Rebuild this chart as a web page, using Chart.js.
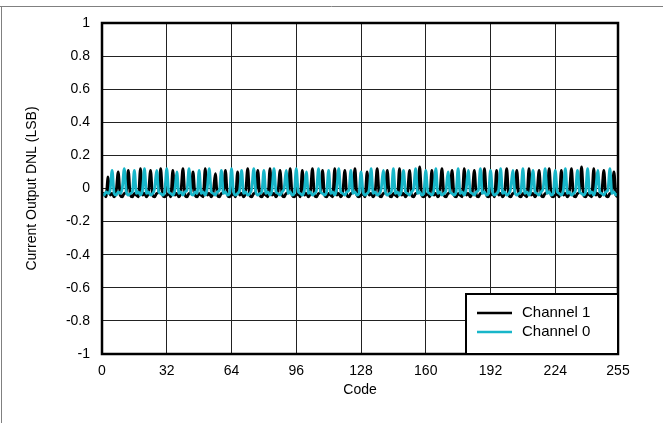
<!DOCTYPE html>
<html>
<head>
<meta charset="utf-8">
<script src="https://cdn.jsdelivr.net/npm/chart.js@4"></script>
<style>
  html, body { margin: 0; padding: 0; background: #fff; }
  #wrap { width: 663px; height: 423px; }
</style>
</head>
<body>
<div id="wrap"><canvas id="dnlChart"></canvas></div>
<script>
// Code axis ticks
const xTickValues = [0, 32, 64, 96, 128, 160, 192, 224, 255];
const seriesNames = ['Channel 1', 'Channel 0'];
const seriesColors = ['#000000', '#18b6c9'];

// DNL (LSB) per code 0..255
const channel1Dnl = [
  -0.04,-0.03,-0.05,0.07,-0.04,-0.03,-0.05,-0.02,0.10,-0.04,-0.05,-0.03,-0.02,0.11,-0.04,-0.05,
  -0.03,-0.04,-0.05,0.12,-0.04,-0.03,-0.05,-0.02,0.11,-0.04,-0.05,-0.03,-0.02,0.12,-0.04,-0.05,
  -0.04,-0.03,-0.05,0.11,-0.04,-0.03,-0.05,-0.02,0.12,-0.04,-0.05,-0.03,-0.02,0.10,-0.04,-0.05,
  -0.03,-0.04,-0.05,0.12,-0.04,-0.03,-0.05,-0.02,0.09,-0.04,-0.05,-0.03,-0.02,0.11,-0.04,-0.05,
  -0.04,-0.03,-0.05,0.10,-0.04,-0.03,-0.05,-0.02,0.12,-0.04,-0.05,-0.03,-0.02,0.11,-0.04,-0.05,
  -0.03,-0.04,-0.05,0.12,-0.04,-0.03,-0.05,-0.02,0.11,-0.04,-0.05,-0.03,-0.02,0.12,-0.04,-0.05,
  -0.04,-0.03,-0.05,0.11,-0.04,-0.03,-0.05,-0.02,0.12,-0.04,-0.05,-0.03,-0.02,0.11,-0.04,-0.05,
  -0.03,-0.04,-0.05,0.12,-0.04,-0.03,-0.05,-0.02,0.11,-0.04,-0.05,-0.03,-0.02,0.12,-0.04,-0.05,
  -0.04,-0.03,-0.05,0.10,-0.04,-0.03,-0.05,-0.02,0.12,-0.04,-0.05,-0.03,-0.02,0.11,-0.04,-0.05,
  -0.03,-0.04,-0.05,0.12,-0.04,-0.03,-0.05,-0.02,0.11,-0.04,-0.05,-0.03,-0.02,0.13,-0.04,-0.05,
  -0.04,-0.03,-0.05,0.11,-0.04,-0.03,-0.05,-0.02,0.12,-0.04,-0.05,-0.03,-0.02,0.11,-0.04,-0.05,
  -0.03,-0.04,-0.05,0.12,-0.04,-0.03,-0.05,-0.02,0.11,-0.04,-0.05,-0.03,-0.02,0.12,-0.04,-0.05,
  -0.04,-0.03,-0.05,0.11,-0.04,-0.03,-0.05,-0.02,0.12,-0.04,-0.05,-0.03,-0.02,0.11,-0.04,-0.05,
  -0.03,-0.04,-0.05,0.12,-0.04,-0.03,-0.05,-0.02,0.11,-0.04,-0.05,-0.03,-0.02,0.12,-0.04,-0.05,
  -0.04,-0.03,-0.05,0.11,-0.04,-0.03,-0.05,-0.02,0.12,-0.04,-0.05,-0.03,-0.02,0.13,-0.04,-0.05,
  -0.03,-0.04,-0.05,0.12,-0.04,-0.03,-0.05,-0.02,0.11,-0.04,-0.05,-0.03,-0.02,0.10,-0.04,-0.05
];
const channel0Dnl = [
  -0.03,-0.04,-0.02,-0.03,-0.01,0.11,-0.03,-0.04,-0.02,-0.03,0.00,0.12,-0.02,-0.04,-0.03,-0.02,
  0.11,-0.03,-0.02,-0.04,-0.01,0.12,-0.03,-0.02,-0.04,-0.03,0.00,0.11,-0.02,-0.03,-0.04,-0.02,
  0.12,-0.02,-0.03,-0.04,-0.01,0.10,-0.03,-0.02,-0.04,-0.02,-0.01,0.12,-0.03,-0.04,-0.02,-0.03,
  0.11,-0.03,-0.02,-0.04,0.00,0.12,-0.02,-0.03,-0.04,-0.02,-0.01,0.11,-0.03,-0.02,-0.04,-0.03,
  0.12,-0.02,-0.04,-0.03,-0.01,0.11,-0.03,-0.02,-0.04,-0.03,0.00,0.12,-0.02,-0.04,-0.03,-0.02,
  0.11,-0.03,-0.02,-0.04,-0.01,0.12,-0.02,-0.03,-0.04,-0.02,0.00,0.11,-0.03,-0.02,-0.04,-0.03,
  0.12,-0.02,-0.03,-0.04,-0.01,0.10,-0.03,-0.02,-0.04,-0.03,-0.01,0.12,-0.02,-0.03,-0.04,-0.02,
  0.11,-0.03,-0.02,-0.04,0.00,0.12,-0.02,-0.03,-0.04,-0.02,-0.01,0.11,-0.03,-0.02,-0.04,-0.03,
  0.10,-0.02,-0.04,-0.03,-0.01,0.12,-0.03,-0.02,-0.04,-0.03,0.00,0.11,-0.02,-0.04,-0.03,-0.02,
  0.12,-0.03,-0.02,-0.04,-0.01,0.11,-0.02,-0.03,-0.04,-0.02,0.00,0.12,-0.03,-0.02,-0.04,-0.03,
  0.11,-0.02,-0.03,-0.04,-0.01,0.12,-0.03,-0.02,-0.04,-0.03,-0.01,0.10,-0.02,-0.03,-0.04,-0.02,
  0.12,-0.03,-0.02,-0.04,0.00,0.11,-0.02,-0.03,-0.04,-0.02,-0.01,0.12,-0.03,-0.02,-0.04,-0.03,
  0.11,-0.02,-0.04,-0.03,-0.01,0.12,-0.03,-0.02,-0.04,-0.03,0.00,0.11,-0.02,-0.04,-0.03,-0.02,
  0.12,-0.03,-0.02,-0.04,-0.01,0.11,-0.02,-0.03,-0.04,-0.02,0.00,0.12,-0.03,-0.02,-0.04,-0.03,
  0.11,-0.02,-0.03,-0.04,-0.01,0.12,-0.03,-0.02,-0.04,-0.03,-0.01,0.11,-0.02,-0.03,-0.04,-0.02,
  0.12,-0.03,-0.02,-0.04,0.00,0.11,-0.02,-0.03,-0.04,-0.02,-0.01,0.12,-0.03,-0.02,-0.04,-0.03
];

const codes = channel1Dnl.map((_, i) => i);
const font = { family: '"Liberation Sans", Arial, sans-serif', size: 14 };

// outer figure border, plot frame and in-plot legend
const decorPlugin = {
  id: 'decor',
  afterDraw(chart) {
    const ctx = chart.ctx;
    const a = chart.chartArea;
    ctx.save();
    ctx.strokeStyle = '#808080';
    ctx.lineWidth = 1;
    ctx.beginPath();
    ctx.moveTo(0, 6.5); ctx.lineTo(663, 6.5);
    ctx.moveTo(1.5, 6.5); ctx.lineTo(1.5, 423);
    ctx.stroke();

    ctx.strokeStyle = '#000';
    ctx.lineWidth = 2.5;
    ctx.strokeRect(a.left, a.top, a.right - a.left, a.bottom - a.top);

    // legend box
    const lw = 152, lh = 60;
    const lx = a.right - lw, ly = a.bottom - lh;
    ctx.fillStyle = '#fff';
    ctx.fillRect(lx, ly, lw, lh);
    ctx.lineWidth = 2;
    ctx.strokeRect(lx, ly, lw, lh);
    ctx.font = '15px "Liberation Sans", Arial, sans-serif';
    ctx.textBaseline = 'middle';
    chart.data.datasets.forEach((ds, i) => {
      const y = ly + 19 + i * 19;
      ctx.strokeStyle = ds.borderColor;
      ctx.lineWidth = 2.5;
      ctx.beginPath();
      ctx.moveTo(lx + 11, y); ctx.lineTo(lx + 46, y);
      ctx.stroke();
      ctx.fillStyle = '#000';
      ctx.fillText(ds.label, lx + 56, y);
    });
    ctx.restore();
  }
};

const lineStyle = { borderWidth: 2.8, pointRadius: 0, cubicInterpolationMode: 'monotone',
                    borderJoinStyle: 'round', borderCapStyle: 'round' };

new Chart(document.getElementById('dnlChart'), {
  type: 'line',
  data: {
    labels: codes,
    datasets: [
      Object.assign({ label: seriesNames[0], data: codes.map((c, i) => ({ x: c, y: channel1Dnl[i] })),
        borderColor: seriesColors[0], order: 1 }, lineStyle),
      Object.assign({ label: seriesNames[1], data: codes.map((c, i) => ({ x: c, y: channel0Dnl[i] })),
        borderColor: seriesColors[1], order: 0 }, lineStyle)
    ]
  },
  options: {
    responsive: true,
    maintainAspectRatio: false,
    animation: false,
    layout: { padding: { left: 20, top: 23, right: 45, bottom: 20 } },
    plugins: { legend: { display: false }, tooltip: { enabled: false } },
    scales: {
      x: {
        type: 'linear',
        min: 0,
        max: 255,
        afterBuildTicks: (axis) => { axis.ticks = xTickValues.map(v => ({ value: v })); },
        afterFit: (axis) => { axis.height = 49; },
        ticks: { color: '#000', font: font, padding: 9, maxRotation: 0, autoSkip: false,
                 callback: (v) => String(v) },
        grid: { color: '#222', lineWidth: 1, drawTicks: false },
        border: { display: false },
        title: { display: true, text: 'Code', color: '#000', font: font, padding: { top: 0, bottom: 4 } }
      },
      y: {
        min: -1,
        max: 1,
        afterFit: (axis) => { axis.width = 82; },
        ticks: { color: '#000', font: font, stepSize: 0.2, padding: 12,
                 callback: (v) => String(Math.round(v * 10) / 10) },
        grid: { color: '#222', lineWidth: 1, drawTicks: false },
        border: { display: false },
        title: { display: true, text: 'Current Output DNL (LSB)', color: '#000', font: font, padding: 4 }
      }
    }
  },
  plugins: [decorPlugin]
});
</script>
</body>
</html>
